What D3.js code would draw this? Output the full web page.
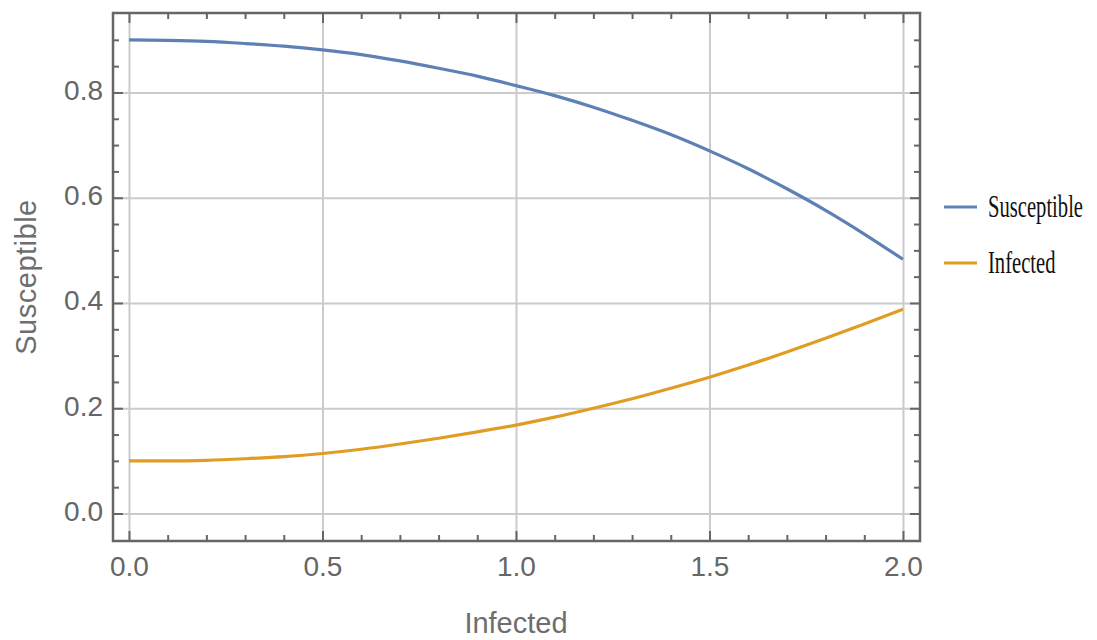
<!DOCTYPE html>
<html>
<head>
<meta charset="utf-8">
<script src="https://cdn.jsdelivr.net/npm/d3@7"></script>
<style>
  body { margin: 0; background: #fff; }
  svg { display: block; }
</style>
</head>
<body>
<svg id="chart" width="1097" height="640"></svg>
<script>
// ─── data ────────────────────────────────────────────────────────────────────
const times = [0, 0.1, 0.2, 0.3, 0.4, 0.5, 0.6, 0.7, 0.8, 0.9, 1.0,
               1.1, 1.2, 1.3, 1.4, 1.5, 1.6, 1.7, 1.8, 1.9, 2.0];
const susceptible = [0.900, 0.899, 0.897, 0.893, 0.888, 0.881, 0.872, 0.860, 0.846, 0.831, 0.813,
                     0.794, 0.772, 0.747, 0.720, 0.689, 0.655, 0.617, 0.576, 0.531, 0.483];
const infected = [0.100, 0.100, 0.101, 0.104, 0.108, 0.114, 0.122, 0.132, 0.143, 0.155, 0.168,
                  0.183, 0.200, 0.218, 0.238, 0.259, 0.282, 0.307, 0.333, 0.360, 0.388];
const seriesNames = ['Susceptible', 'Infected'];
const seriesColors = ['#5e81b5', '#e19c24'];

const xTicks = [0, 0.5, 1, 1.5, 2];
const xMinorTicks = [0.1, 0.2, 0.3, 0.4, 0.6, 0.7, 0.8, 0.9, 1.1, 1.2, 1.3, 1.4, 1.6, 1.7, 1.8, 1.9];
const yTicks = [0, 0.2, 0.4, 0.6, 0.8];
const yMinorTicks = [0.05, 0.1, 0.15, 0.25, 0.3, 0.35, 0.45, 0.5, 0.55, 0.65, 0.7, 0.75, 0.85, 0.9];

const xTitle = 'Infected';
const yTitle = 'Susceptible';

// ─── layout ──────────────────────────────────────────────────────────────────
const FRAME = { left: 113, top: 13, right: 920, bottom: 541 };
const AXIS_GREY = '#666666';
const SANS = '"Liberation Sans", Arial, sans-serif';
const SERIF = '"Liberation Serif", "Times New Roman", serif';

const svg = d3.select('#chart');

const x = d3.scaleLinear().domain([-0.0413, 2.044]).range([FRAME.left, FRAME.right]);
const y = d3.scaleLinear().domain([-0.0523, 0.951]).range([FRAME.bottom, FRAME.top]);
const fmt = d3.format('.1f');
const plotH = FRAME.bottom - FRAME.top;
const plotW = FRAME.right - FRAME.left;

// grid
svg.append('g')
  .attr('transform', `translate(0,${FRAME.bottom})`)
  .call(d3.axisBottom(x).tickValues(xTicks).tickSize(-plotH).tickFormat(''))
  .call((g) => g.select('.domain').remove())
  .selectAll('line').attr('stroke', '#cbcbcb').attr('stroke-width', 2);
svg.append('g')
  .attr('transform', `translate(${FRAME.left},0)`)
  .call(d3.axisLeft(y).tickValues(yTicks).tickSize(-plotW).tickFormat(''))
  .call((g) => g.select('.domain').remove())
  .selectAll('line').attr('stroke', '#cbcbcb').attr('stroke-width', 2);

// series
const line = d3.line()
  .x((d) => x(d[0]))
  .y((d) => y(d[1]))
  .curve(d3.curveMonotoneX);

[susceptible, infected].forEach((vals, i) => {
  svg.append('path')
    .datum(times.map((t, j) => [t, vals[j]]))
    .attr('fill', 'none')
    .attr('stroke', seriesColors[i])
    .attr('stroke-width', 3.2)
    .attr('stroke-linejoin', 'round')
    .attr('d', line);
});

// ticks on all four sides, pointing inwards
function styleTicks(g, len) {
  g.select('.domain').remove();
  g.selectAll('line').attr('stroke', AXIS_GREY).attr('stroke-width', 2);
  return g;
}

const bottom = svg.append('g')
  .attr('transform', `translate(0,${FRAME.bottom})`)
  .call(d3.axisBottom(x).tickValues(xTicks).tickSize(-10).tickPadding(15).tickFormat(fmt))
  .call(styleTicks);
bottom.attr('font-size', 28).attr('font-family', SANS);
bottom.selectAll('text').attr('fill', AXIS_GREY);

const left = svg.append('g')
  .attr('transform', `translate(${FRAME.left},0)`)
  .call(d3.axisLeft(y).tickValues(yTicks).tickSize(-10).tickPadding(10).tickFormat(fmt))
  .call(styleTicks);
left.attr('font-size', 28).attr('font-family', SANS);
left.selectAll('text').attr('fill', AXIS_GREY).attr('dy', '0.25em');

svg.append('g')
  .attr('transform', `translate(0,${FRAME.bottom})`)
  .call(d3.axisBottom(x).tickValues(xMinorTicks).tickSize(-6).tickFormat(''))
  .call(styleTicks);
svg.append('g')
  .attr('transform', `translate(${FRAME.left},0)`)
  .call(d3.axisLeft(y).tickValues(yMinorTicks).tickSize(-6).tickFormat(''))
  .call(styleTicks);

svg.append('g')
  .attr('transform', `translate(0,${FRAME.top})`)
  .call(d3.axisTop(x).tickValues(xTicks).tickSize(-10).tickFormat(''))
  .call(styleTicks);
svg.append('g')
  .attr('transform', `translate(0,${FRAME.top})`)
  .call(d3.axisTop(x).tickValues(xMinorTicks).tickSize(-6).tickFormat(''))
  .call(styleTicks);
svg.append('g')
  .attr('transform', `translate(${FRAME.right},0)`)
  .call(d3.axisRight(y).tickValues(yTicks).tickSize(-10).tickFormat(''))
  .call(styleTicks);
svg.append('g')
  .attr('transform', `translate(${FRAME.right},0)`)
  .call(d3.axisRight(y).tickValues(yMinorTicks).tickSize(-6).tickFormat(''))
  .call(styleTicks);

// frame
svg.append('rect')
  .attr('x', FRAME.left)
  .attr('y', FRAME.top)
  .attr('width', plotW)
  .attr('height', plotH)
  .attr('fill', 'none')
  .attr('stroke', AXIS_GREY)
  .attr('stroke-width', 2.5);

// axis titles
svg.append('text')
  .attr('x', x(1))
  .attr('y', 633)
  .attr('text-anchor', 'middle')
  .attr('font-family', SANS)
  .attr('font-size', 29)
  .attr('fill', '#6e6e6e')
  .text(xTitle);

svg.append('text')
  .attr('transform', `translate(36,${(FRAME.top + FRAME.bottom) / 2}) rotate(-90)`)
  .attr('text-anchor', 'middle')
  .attr('font-family', SANS)
  .attr('font-size', 29)
  .attr('letter-spacing', 0.5)
  .attr('fill', '#6e6e6e')
  .text(yTitle);

// legend
const legend = svg.append('g');
seriesNames.forEach((name, i) => {
  const ly = 207 + i * 56;
  legend.append('line')
    .attr('x1', 944).attr('x2', 977)
    .attr('y1', ly).attr('y2', ly)
    .attr('stroke', seriesColors[i])
    .attr('stroke-width', 3.2);
  legend.append('text')
    .attr('transform', `translate(988,${ly + 10}) scale(0.665,1)`)
    .attr('font-family', SERIF)
    .attr('font-size', 31)
    .attr('fill', '#111')
    .text(name);
});
</script>
</body>
</html>
